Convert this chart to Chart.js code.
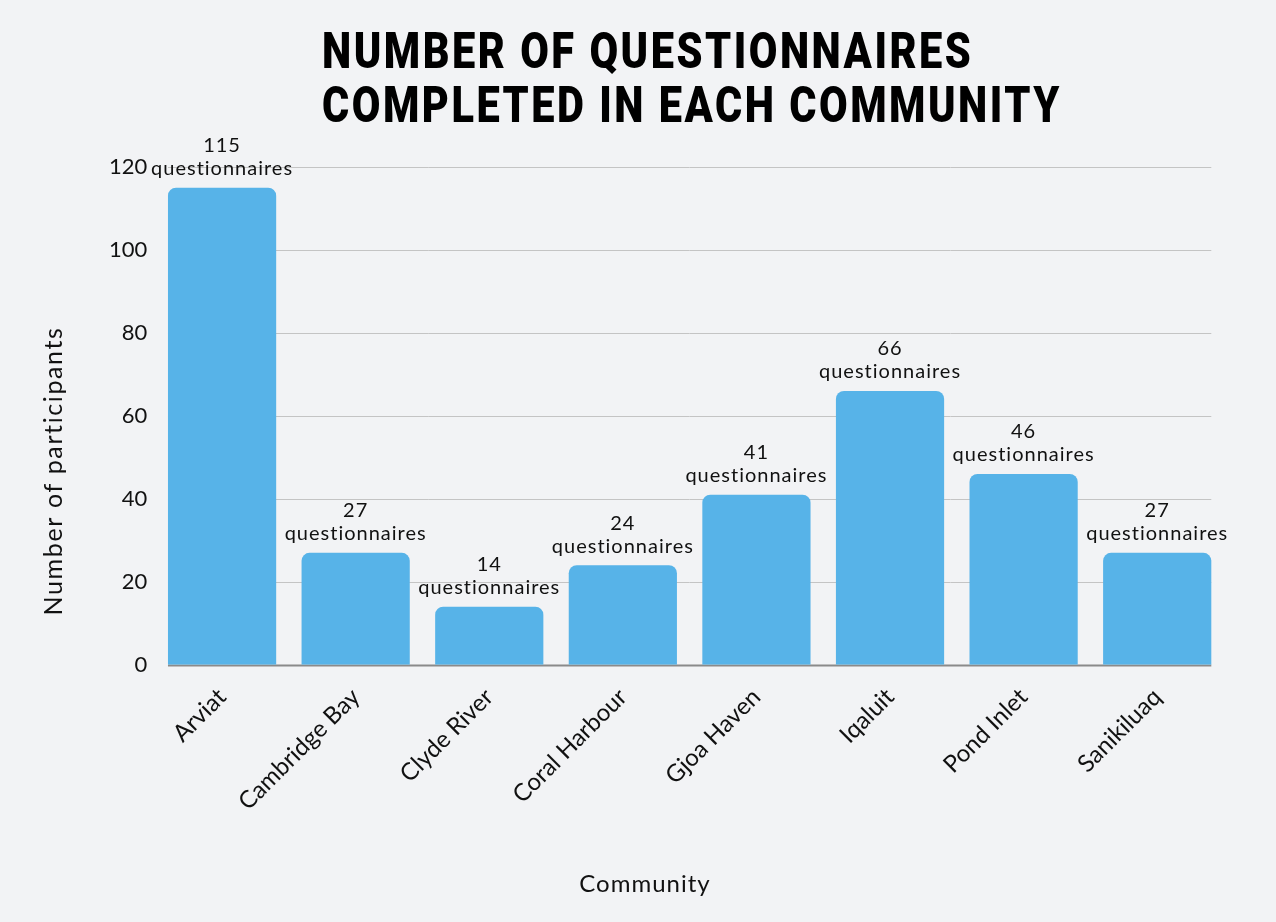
<!DOCTYPE html>
<html>
<head>
<meta charset="utf-8">
<script src="https://cdn.jsdelivr.net/npm/chart.js@4.4.1/dist/chart.umd.min.js"></script>
<style>
  html, body { margin: 0; padding: 0; background: #f2f3f5; }
  #wrap { position: relative; width: 1276px; height: 922px; }
  #title {
    position: absolute; left: 322px; top: 24px;
    margin: 0; text-align: left; white-space: nowrap;
    font-family: Roboto, sans-serif; font-weight: 900; font-size: 50px;
    line-height: 54px; letter-spacing: 3px; color: #000;
    transform: scaleX(0.831); transform-origin: 0 0;
  }
</style>
</head>
<body>
<div id="wrap">
  <canvas id="chart" width="1276" height="922"></canvas>
  <h1 id="title">NUMBER OF QUESTIONNAIRES<br>COMPLETED IN EACH COMMUNITY</h1>
</div>
<script>
const communities = ['Arviat', 'Cambridge Bay', 'Clyde River', 'Coral Harbour', 'Gjoa Haven', 'Iqaluit', 'Pond Inlet', 'Sanikiluaq'];
const questionnaires = [115, 27, 14, 24, 41, 66, 46, 27];
const yTicks = [0, 20, 40, 60, 80, 100, 120];
const xTitle = 'Community';
const yTitle = 'Number of participants';

const labelFont = 'Lato, "Open Sans", sans-serif';

// wider letter spacing, closer to the reference's geometric font
const spacing = {
  id: 'spacing',
  beforeInit(chart) { chart.ctx.letterSpacing = '0.8px'; }
};

// gridlines run from the first bar's left edge to the last bar's right edge
const gridLines = {
  id: 'gridLines',
  beforeDatasetsDraw(chart) {
    const ctx = chart.ctx;
    const bars = chart.getDatasetMeta(0).data;
    const x0 = bars[0].x - bars[0].width / 2;
    const x1 = bars[bars.length - 1].x + bars[bars.length - 1].width / 2;
    const y = chart.scales.y;
    ctx.save();
    yTicks.forEach(v => {
      const py = Math.round(y.getPixelForValue(v)) + 0.5;
      ctx.strokeStyle = v === 0 ? '#8a8a8a' : '#c4c4c4';
      ctx.lineWidth = v === 0 ? 2 : 1;
      ctx.beginPath();
      ctx.moveTo(x0, py);
      ctx.lineTo(x1, py);
      ctx.stroke();
    });
    ctx.restore();
  }
};

// axis titles are centred on the whole page, not the plot area
const axisTitles = {
  id: 'axisTitles',
  afterDraw(chart) {
    const ctx = chart.ctx;
    ctx.save();
    ctx.fillStyle = '#111';
    ctx.textAlign = 'center';
    ctx.textBaseline = 'middle';
    ctx.font = '24px ' + labelFont;
    ctx.letterSpacing = '1px';
    ctx.fillText(xTitle, 645, 884);
    ctx.translate(54, 471);
    ctx.rotate(-Math.PI / 2);
    ctx.font = '25px ' + labelFont;
    ctx.letterSpacing = '1.6px';
    ctx.fillText(yTitle, 0, 0);
    ctx.restore();
  }
};

// draws "N" / "questionnaires" above each bar
const barLabels = {
  id: 'barLabels',
  afterDatasetsDraw(chart) {
    const ctx = chart.ctx;
    const meta = chart.getDatasetMeta(0);
    ctx.save();
    ctx.fillStyle = '#111';
    ctx.textAlign = 'center';
    ctx.textBaseline = 'middle';
    ctx.letterSpacing = '1px';
    ctx.font = '20px ' + labelFont;
    meta.data.forEach((bar, i) => {
      ctx.fillText(String(questionnaires[i]), bar.x, bar.y - 42);
      ctx.fillText('questionnaires', bar.x, bar.y - 19);
    });
    ctx.restore();
  }
};

new Chart(document.getElementById('chart'), {
  type: 'bar',
  data: {
    labels: communities,
    datasets: [{
      data: questionnaires,
      backgroundColor: '#57b3e8',
      borderRadius: { topLeft: 8, topRight: 8 },
      borderSkipped: 'bottom',
      barPercentage: 0.81,
      categoryPercentage: 1
    }]
  },
  options: {
    responsive: false,
    animation: false,
    layout: { padding: { top: 167, right: 52, bottom: 96, left: 109 } },
    plugins: {
      legend: { display: false },
      tooltip: { enabled: false }
    },
    scales: {
      y: {
        min: 0, max: 120,
        afterBuildTicks: axis => { axis.ticks = yTicks.map(v => ({ value: v })); },
        ticks: { color: '#111', font: { family: labelFont, size: 22 }, padding: 0 },
        grid: { display: false },
        border: { display: false }
      },
      x: {
        ticks: { color: '#111', font: { family: labelFont, size: 24 }, minRotation: 45, maxRotation: 45, padding: 10 },
        grid: { display: false },
        border: { display: false }
      }
    }
  },
  plugins: [spacing, gridLines, barLabels, axisTitles]
});
</script>
</body>
</html>
